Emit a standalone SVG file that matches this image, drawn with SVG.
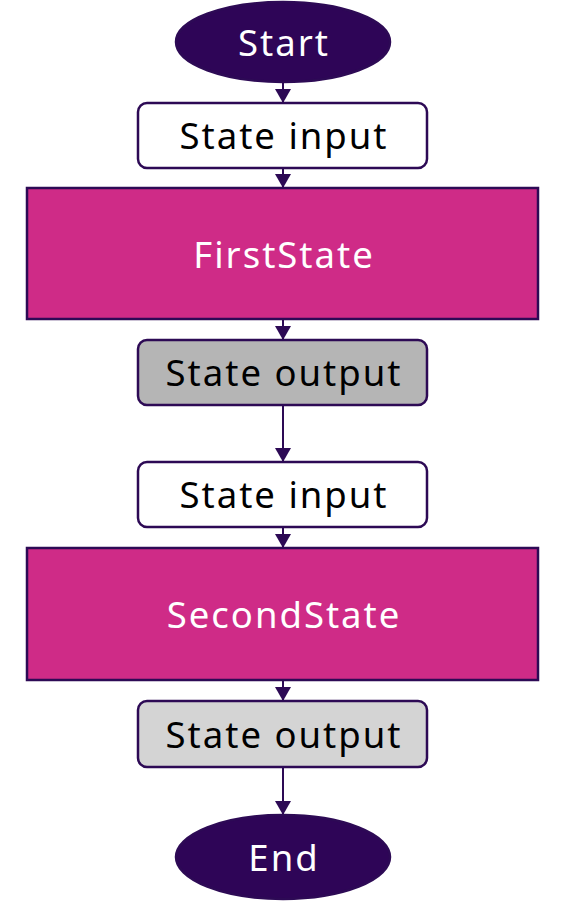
<svg xmlns="http://www.w3.org/2000/svg" width="568" height="906" viewBox="0 0 568 906">
<style>
.st{stroke:#2d0a55;stroke-width:2.5}
.term{fill:#2e0557}
.io{fill:#ffffff}
.task{fill:#cf2b87}
.out1{fill:#b5b5b5}
.out2{fill:#d4d4d4}
text{font-family:"Noto Sans","Open Sans","DejaVu Sans",sans-serif;font-size:36.5px;letter-spacing:2px;text-anchor:middle;dominant-baseline:central}
.w{fill:#ffffff}
.b{fill:#000000}
.c{stroke:#2d0a55;stroke-width:2;fill:none}
</style>
<defs>
<marker id="ah" viewBox="0 0 14 16" refX="14" refY="8" markerWidth="14" markerHeight="16" markerUnits="userSpaceOnUse" orient="auto">
<path d="M0,0 L14,8 L0,16 Z" fill="#2d0a55"/>
</marker>
</defs>
<g id="connectors">
<line class="c" x1="283" y1="82" x2="283" y2="103" marker-end="url(#ah)"/>
<line class="c" x1="283" y1="168" x2="283" y2="188" marker-end="url(#ah)"/>
<line class="c" x1="283" y1="319" x2="283" y2="340" marker-end="url(#ah)"/>
<line class="c" x1="283" y1="405" x2="283" y2="462" marker-end="url(#ah)"/>
<line class="c" x1="283" y1="527" x2="283" y2="548" marker-end="url(#ah)"/>
<line class="c" x1="283" y1="680" x2="283" y2="701" marker-end="url(#ah)"/>
<line class="c" x1="283" y1="767" x2="283" y2="815" marker-end="url(#ah)"/>
</g>
<g id="start">
<ellipse class="term st" cx="283" cy="42" rx="107" ry="40"/>
<text class="w" x="284" y="42">Start</text>
</g>
<g id="input1">
<rect class="io st" x="138" y="103" width="289" height="65" rx="9"/>
<text class="b" x="284" y="135">State input</text>
</g>
<g id="firststate">
<rect class="task st" x="27" y="188" width="511" height="131"/>
<text class="w" x="284" y="254">FirstState</text>
</g>
<g id="output1">
<rect class="out1 st" x="138" y="340" width="289" height="65" rx="9"/>
<text class="b" x="284" y="372">State output</text>
</g>
<g id="input2">
<rect class="io st" x="138" y="462" width="289" height="65" rx="9"/>
<text class="b" x="284" y="494">State input</text>
</g>
<g id="secondstate">
<rect class="task st" x="27" y="548" width="511" height="132"/>
<text class="w" x="284" y="614">SecondState</text>
</g>
<g id="output2">
<rect class="out2 st" x="138" y="701" width="289" height="66" rx="9"/>
<text class="b" x="284" y="734">State output</text>
</g>
<g id="end">
<ellipse class="term st" cx="283" cy="857" rx="107" ry="42"/>
<text class="w" x="284" y="857">End</text>
</g>
</svg>
